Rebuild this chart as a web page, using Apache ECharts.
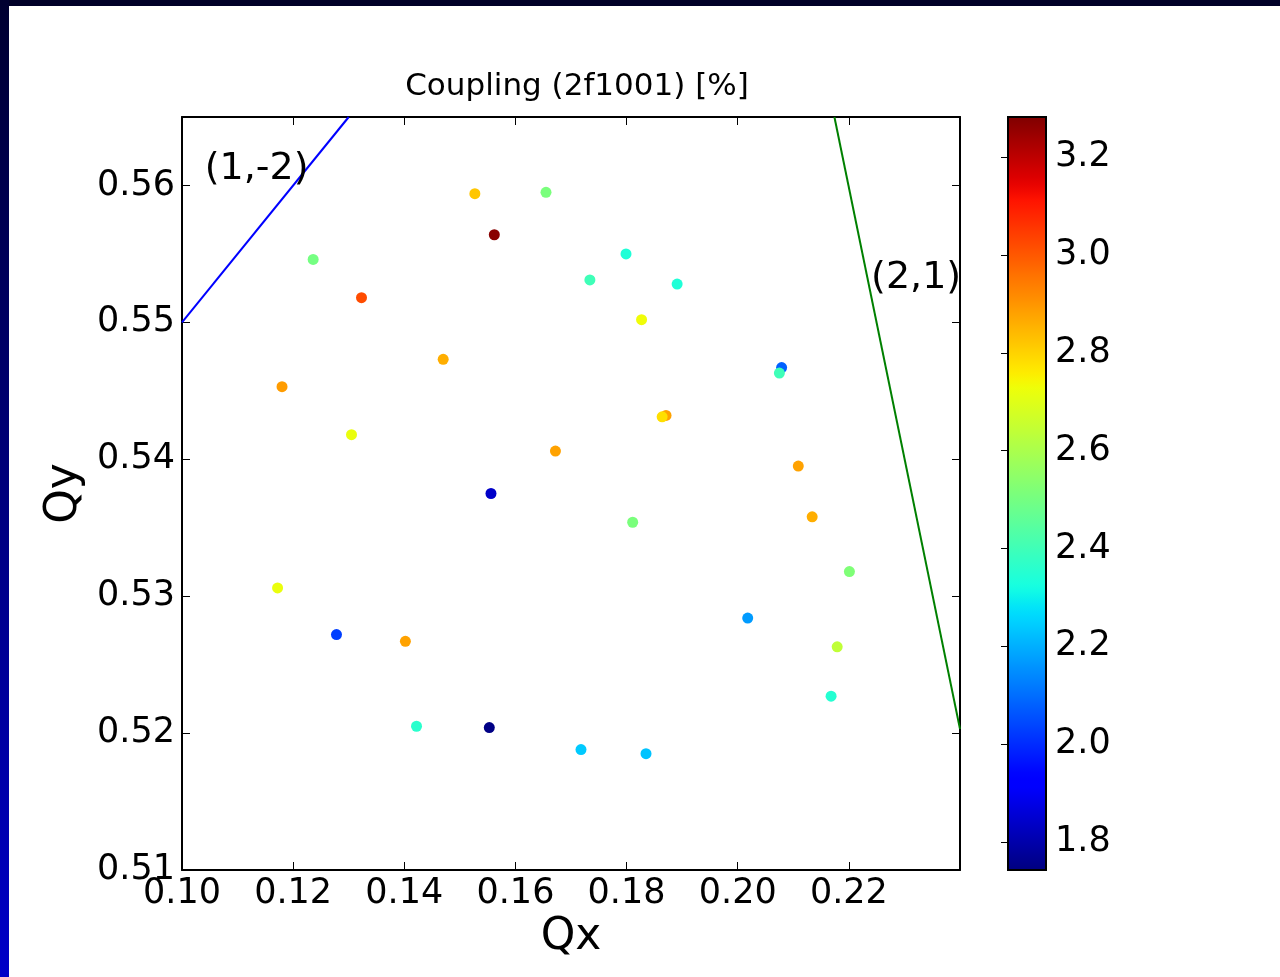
<!DOCTYPE html>
<html>
<head>
<meta charset="utf-8">
<script src="https://cdn.jsdelivr.net/npm/echarts@6/dist/echarts.min.js"></script>
<style>
html,body{margin:0;padding:0;background:#fff;}
#chart{width:1280px;height:977px;}
</style>
</head>
<body>
<div id="chart"></div>
<script>
// ---- data ----
const qx = [0.1527,0.1655,0.1562,0.1236,0.1323,0.1799,0.1734,0.1891,0.1827,0.1470,0.1180,0.2079,0.2075,0.1305,0.1871,0.1864,0.1672,0.1556,0.2109,0.2134,0.1811,0.2201,0.1172,0.1278,0.1402,0.2018,0.2179,0.2168,0.1422,0.1553,0.1718,0.1835];
const qy = [0.5594,0.5595,0.5564,0.5546,0.5518,0.5550,0.5531,0.5528,0.5502,0.5473,0.5453,0.5467,0.5463,0.5418,0.5432,0.5431,0.5406,0.5375,0.5395,0.5358,0.5354,0.5318,0.5306,0.5272,0.5267,0.5284,0.5263,0.5227,0.5205,0.5204,0.5188,0.5185];
const coupling = [2.82,2.51,3.27,2.50,3.02,2.34,2.40,2.34,2.73,2.86,2.89,2.08,2.40,2.72,2.88,2.78,2.88,1.84,2.88,2.86,2.51,2.52,2.72,2.03,2.88,2.17,2.64,2.35,2.36,1.75,2.24,2.23];
const res12X = [0.10, 0.13];
const res12Y = [0.55, 0.565];
const res21X = [0.2174, 0.24];
const res21Y = [0.565, 0.5203];
const annotations = [[0.1041, 0.5612, '(1,-2)'], [0.2240, 0.5532, '(2,1)']];
const cbTicks = [1.8,2.0,2.2,2.4,2.6,2.8,3.0,3.2];
const cMin = 1.743, cMax = 3.282;

// ---- jet colormap (styling) ----
function jetSeg(pts, t){
  for(let i=1;i<pts.length;i++){
    if(t<=pts[i][0]){const a=pts[i-1],b=pts[i];return a[1]+(b[1]-a[1])*(t-a[0])/(b[0]-a[0]);}
  }
  return pts[pts.length-1][1];
}
function jet(t){
  const r=jetSeg([[0,0],[0.35,0],[0.66,1],[0.89,1],[1,0.5]],t);
  const g=jetSeg([[0,0],[0.125,0],[0.375,1],[0.64,1],[0.91,0],[1,0]],t);
  const b=jetSeg([[0,0.5],[0.11,1],[0.34,1],[0.65,0],[1,0]],t);
  const h=v=>Math.round(v*255).toString(16).padStart(2,'0');
  return '#'+h(r)+h(g)+h(b);
}
const jetStops=[];for(let i=0;i<=64;i++)jetStops.push(jet(i/64));

const font='DejaVu Sans';
const pts = qx.map((x,i)=>[x,qy[i],coupling[i]]);
const L=182,T=117,W=778,H=753;
const tickStyle={show:true,inside:true,length:8,lineStyle:{color:'#000',width:1}};
const lineStyle={show:true,lineStyle:{color:'#000',width:2}};

const chart=echarts.init(document.getElementById('chart'));
chart.setOption({
  backgroundColor:'#fff',
  animation:false,
  textStyle:{fontFamily:font},
  title:{text:'Coupling (2f1001) [%]',left:572,top:66,textAlign:'center',
    textStyle:{fontFamily:font,fontSize:31,fontWeight:'normal',color:'#000'}},
  graphic:[
    {type:'rect',shape:{x:0,y:0,width:1280,height:6},style:{fill:'#000028'},z:100,silent:true},
    {type:'rect',shape:{x:0,y:0,width:9,height:977},style:{fill:{type:'linear',x:0,y:0,x2:0,y2:1,colorStops:[{offset:0,color:'#000030'},{offset:1,color:'#0000c8'}]}},z:100,silent:true},
    {type:'rect',shape:{x:1008,y:T,width:38,height:H},style:{fill:null,stroke:'#000',lineWidth:2},z:100,silent:true}
  ],
  grid:[
    {left:L,top:T,width:W,height:H},
    {left:1008,top:T,width:38,height:H}
  ],
  xAxis:[
    {type:'value',gridIndex:0,min:0.10,max:0.24,interval:0.02,position:'bottom',
     axisLine:lineStyle,axisTick:tickStyle,splitLine:{show:false},
     axisLabel:{fontSize:35,color:'#000',margin:6,showMaxLabel:false,formatter:v=>v.toFixed(2)},
     name:'Qx',nameLocation:'middle',nameGap:44,nameTextStyle:{fontSize:44,color:'#000'}},
    {type:'value',gridIndex:0,min:0.10,max:0.24,interval:0.02,position:'top',
     axisLine:lineStyle,axisTick:tickStyle,splitLine:{show:false},axisLabel:{show:false}},
    {type:'value',gridIndex:1,min:0,max:1,show:false}
  ],
  yAxis:[
    {type:'value',gridIndex:0,min:0.51,max:0.565,interval:0.01,position:'left',
     axisLine:lineStyle,axisTick:tickStyle,splitLine:{show:false},
     axisLabel:{fontSize:35,color:'#000',margin:7,showMaxLabel:false,formatter:v=>v.toFixed(2)},
     name:'Qy',nameLocation:'middle',nameGap:94,nameTextStyle:{fontSize:44,color:'#000'}},
    {type:'value',gridIndex:0,min:0.51,max:0.565,interval:0.01,position:'right',
     axisLine:lineStyle,axisTick:tickStyle,splitLine:{show:false},axisLabel:{show:false}},
    {type:'value',gridIndex:1,min:cMin,max:cMax,position:'right',
     axisLine:{show:false},splitLine:{show:false},
     axisTick:{show:true,inside:true,length:7,lineStyle:{color:'#000',width:1},customValues:cbTicks},
     axisLabel:{fontSize:35,color:'#000',margin:9,customValues:cbTicks,formatter:v=>v.toFixed(1)}}
  ],
  visualMap:{type:'continuous',min:cMin,max:cMax,dimension:2,seriesIndex:0,
    left:1008,top:T,itemWidth:38,itemHeight:H,padding:0,calculable:false,
    text:null,showLabel:false,inRange:{color:jetStops},hoverLink:false},
  series:[
    {type:'scatter',xAxisIndex:0,yAxisIndex:0,symbolSize:11,data:pts,z:5,itemStyle:{opacity:1}},
    {type:'line',xAxisIndex:0,yAxisIndex:0,symbol:'none',data:res12X.map((x,i)=>[x,res12Y[i]]),
     lineStyle:{color:'#0000ff',width:2},z:3},
    {type:'line',xAxisIndex:0,yAxisIndex:0,symbol:'none',data:res21X.map((x,i)=>[x,res21Y[i]]),
     lineStyle:{color:'#008000',width:2},z:3},
    {type:'scatter',xAxisIndex:0,yAxisIndex:0,symbolSize:0,data:annotations,silent:true,
     itemStyle:{color:'#000',opacity:1},
     label:{show:true,position:'right',distance:0,formatter:p=>p.value[2],fontSize:38,color:'#000',opacity:1,fontFamily:font},z:6}
  ]
});
</script>
</body>
</html>
